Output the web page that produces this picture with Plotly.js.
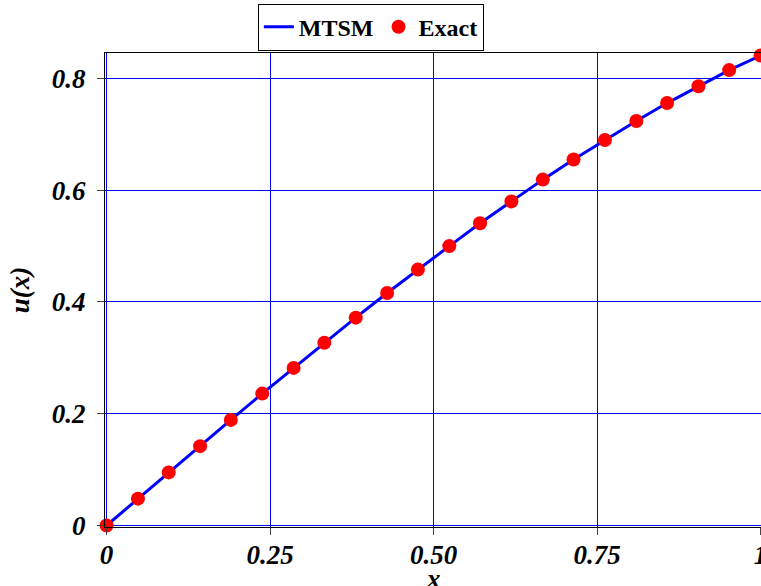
<!DOCTYPE html>
<html>
<head>
<meta charset="utf-8">
<script src="https://cdn.plot.ly/plotly-3.0.1.min.js"></script>
<style>html,body{margin:0;padding:0;background:#fff;}#chart{width:761px;height:586px;}</style>
</head>
<body>
<div id="chart"></div>
<script>
// Grid points along x
const xPoints = [0, 0.048, 0.095, 0.143, 0.190, 0.238, 0.286, 0.333, 0.381, 0.429, 0.476,
                 0.524, 0.571, 0.619, 0.667, 0.714, 0.762, 0.810, 0.857, 0.905, 0.952, 1.0];
// MTSM approximate solution
const mtsmValues = [0, 0.048, 0.095, 0.142, 0.189, 0.236, 0.282, 0.327, 0.372, 0.416, 0.458,
                    0.500, 0.541, 0.580, 0.619, 0.655, 0.690, 0.724, 0.756, 0.786, 0.815, 0.841];
// Exact solution
const exactValues = [0, 0.048, 0.095, 0.142, 0.189, 0.236, 0.282, 0.327, 0.372, 0.416, 0.458,
                     0.500, 0.541, 0.580, 0.619, 0.655, 0.690, 0.724, 0.756, 0.786, 0.815, 0.841];
const xTickVals = [0, 0.25, 0.5, 0.75, 1];
const xTickText = ["0", "0.25", "0.50", "0.75", "1"];
const yTickVals = [0, 0.2, 0.4, 0.6, 0.8];
const yTickText = ["0", "0.2", "0.4", "0.6", "0.8"];
const xTitle = "x";
const yTitle = "u(x)";

const fam = "Liberation Serif";
const tickFont = {family: fam, size: 27, color: "#000", weight: "bold", style: "italic"};

const traces = [
  {x: xPoints, y: mtsmValues, mode: "lines", name: "MTSM",
   line: {color: "#0000ff", width: 3}, cliponaxis: false},
  {x: xPoints, y: exactValues, mode: "markers", name: "Exact",
   marker: {color: "#ff0000", size: 14, line: {width: 0}}, cliponaxis: false}
];

const layout = {
  width: 761, height: 586,
  margin: {l: 105, r: 0, t: 53, b: 59, pad: 0},
  paper_bgcolor: "#fff", plot_bgcolor: "#fff",
  showlegend: true,
  legend: {orientation: "h", x: 0.233, xanchor: "left", y: 1.104, yanchor: "top",
           bordercolor: "#000", borderwidth: 1, bgcolor: "#fff",
           font: {family: fam, size: 24, color: "#000", weight: "bold"},
           itemwidth: 30, tracegroupgap: 0},
  xaxis: {range: [-0.0024, 1.0006], tickvals: xTickVals, ticktext: xTickText,
          showgrid: true, gridcolor: "#0000ff", gridwidth: 1, zeroline: false,
          showline: true, linecolor: "#000", linewidth: 1, mirror: true,
          ticks: "outside", ticklen: 7, tickcolor: "#444", tickwidth: 1,
          tickfont: tickFont, ticklabelstandoff: -3, ticklabeloverflow: "allow"},
  yaxis: {range: [-0.0027, 0.8456], tickvals: yTickVals, ticktext: yTickText,
          showgrid: true, gridcolor: "#0000ff", gridwidth: 1, zeroline: false,
          showline: true, linecolor: "#000", linewidth: 1, mirror: true,
          ticks: "outside", ticklen: 7, tickcolor: "#444", tickwidth: 1,
          tickfont: tickFont, ticklabelstandoff: 6,
          title: {text: yTitle, font: tickFont, standoff: 14}},
  annotations: [
    {text: xTitle, xref: "paper", yref: "paper", x: 0.5, y: -0.109,
     xanchor: "center", yanchor: "middle", showarrow: false, font: tickFont}
  ]
};

Plotly.newPlot("chart", traces, layout, {displayModeBar: false, staticPlot: true});
</script>
</body>
</html>
